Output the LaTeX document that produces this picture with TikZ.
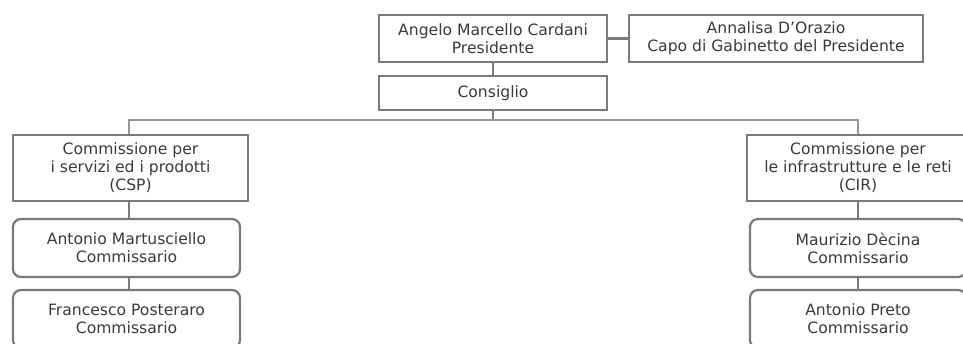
\documentclass[tikz,border=0pt]{standalone}
\usepackage{fontspec}
\setmainfont{DejaVu Sans}
\definecolor{bordergray}{HTML}{7A7A7A}
\definecolor{textgray}{HTML}{3A3A3A}
\begin{document}
\begin{tikzpicture}[x=1pt,y=1pt,
  box/.style={draw=bordergray,line width=2.2pt,fill=white,inner sep=0pt,
    align=center,text=textgray,font=\fontsize{15.6}{18}\selectfont},
  rbox/.style={box,rounded corners=8pt},
  conn/.style={draw=bordergray,line width=2.2pt},
  bus/.style={draw=bordergray!80,line width=1.6pt}]
\useasboundingbox (0,0) rectangle (963,-344);
\node[box,minimum width=228,minimum height=47] (pres) at (493,-38.5) {Angelo Marcello Cardani\\Presidente};
\node[box,minimum width=294,minimum height=47] (anna) at (776,-38.5) {Annalisa D'Orazio\\Capo di Gabinetto del Presidente};
\node[box,minimum width=228,minimum height=34] (cons) at (493,-93) {Consiglio};
\node[box,minimum width=235,minimum height=66] (csp) at (130.5,-168) {Commissione per\\i servizi ed i prodotti\\(CSP)};
\node[box,minimum width=222,minimum height=66] (cir) at (858,-168) {Commissione per\\le infrastrutture e le reti\\(CIR)};
\node[rbox,minimum width=227,minimum height=58] (mart) at (126.5,-248) {Antonio Martusciello\\Commissario};
\node[rbox,minimum width=227,minimum height=58] (post) at (126.5,-319) {Francesco Posteraro\\Commissario};
\node[rbox,minimum width=216,minimum height=58] (dec) at (858,-248) {Maurizio Dècina\\Commissario};
\node[rbox,minimum width=216,minimum height=58] (pret) at (858,-319) {Antonio Preto\\Commissario};
\coordinate (busmid) at (493,-120);
\draw[conn] (pres.east) -- (anna.west);
\draw[conn] (pres.south) -- (cons.north);
\draw[conn] (cons.south) -- (busmid);
\draw[bus] (busmid) -| (csp.north -| 129,0);
\draw[bus] (busmid) -| (cir.north);
\draw[conn] (csp.south -| 129,0) -- (mart.north -| 129,0);
\draw[conn] (mart.south -| 129,0) -- (post.north -| 129,0);
\draw[conn] (cir.south) -- (dec.north);
\draw[conn] (dec.south) -- (pret.north);
\end{tikzpicture}
\end{document}
